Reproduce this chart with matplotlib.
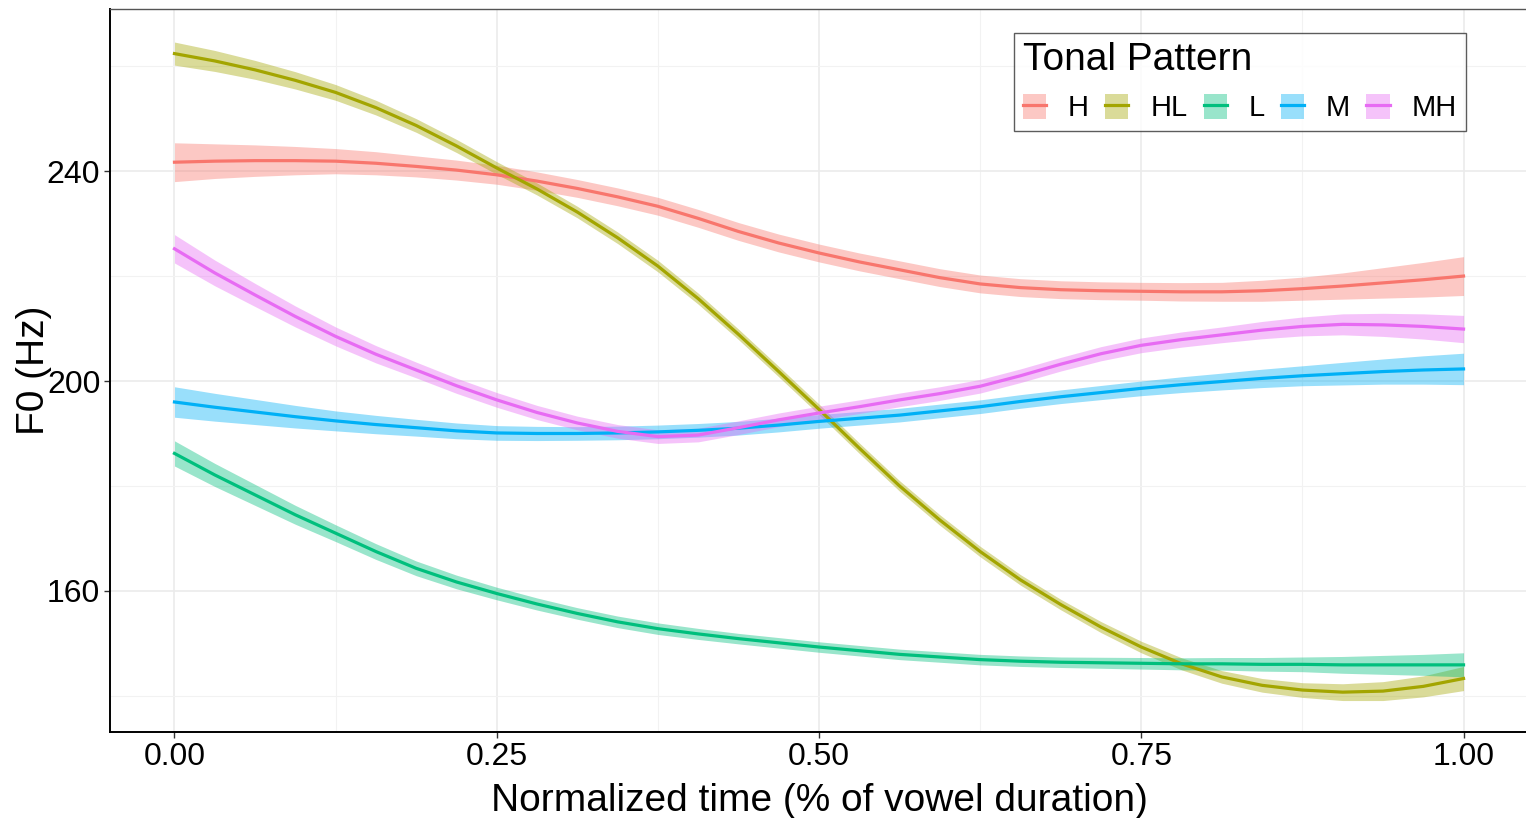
import numpy as np
import matplotlib.pyplot as plt
from matplotlib.patches import Patch
from matplotlib.lines import Line2D

plt.rcParams['font.family'] = ['Liberation Sans', 'DejaVu Sans']

# normalized time points (fraction of vowel duration), step 1/32
t = [0.0, 0.03125, 0.0625, 0.09375, 0.125, 0.15625, 0.1875, 0.21875,
     0.25, 0.28125, 0.3125, 0.34375, 0.375, 0.40625, 0.4375, 0.46875,
     0.5, 0.53125, 0.5625, 0.59375, 0.625, 0.65625, 0.6875, 0.71875,
     0.75, 0.78125, 0.8125, 0.84375, 0.875, 0.90625, 0.9375, 0.96875, 1.0]

patterns = ['H', 'HL', 'L', 'M', 'MH']
colors = ['#F8766D', '#A3A500', '#00BF7D', '#00B0F6', '#E76BF3']

# smoothed F0 (Hz)
f0_H = [241.7, 241.9, 242.0, 242.0, 241.9, 241.5, 240.9, 240.2,
        239.3, 238.1, 236.7, 235.1, 233.3, 231.0, 228.5, 226.3,
        224.4, 222.7, 221.2, 219.7, 218.5, 217.8, 217.4, 217.2,
        217.1, 217.0, 217.0, 217.2, 217.6, 218.1, 218.7, 219.3, 220.0]
f0_HL = [262.4, 261.0, 259.3, 257.3, 255.0, 252.1, 248.7, 244.8,
         240.6, 236.6, 232.2, 227.3, 221.9, 215.7, 208.9, 201.8,
         194.6, 187.2, 180.0, 173.5, 167.5, 162.1, 157.4, 153.1,
         149.3, 146.1, 143.6, 142.0, 141.1, 140.7, 140.9, 141.8, 143.3]
f0_L = [186.2, 182.1, 178.3, 174.5, 171.0, 167.5, 164.3, 161.7,
        159.5, 157.5, 155.7, 154.1, 152.8, 151.8, 150.9, 150.1,
        149.3, 148.6, 147.9, 147.4, 146.9, 146.6, 146.4, 146.3,
        146.2, 146.1, 146.1, 146.0, 146.0, 145.9, 145.9, 145.9, 145.9]
f0_M = [196.0, 195.0, 194.1, 193.2, 192.4, 191.7, 191.1, 190.5,
        190.1, 190.0, 190.0, 190.1, 190.3, 190.6, 191.0, 191.6,
        192.3, 192.9, 193.5, 194.3, 195.1, 196.1, 197.0, 197.8,
        198.6, 199.3, 199.9, 200.5, 201.0, 201.4, 201.8, 202.1, 202.3]
f0_MH = [225.2, 220.6, 216.4, 212.3, 208.5, 205.1, 202.1, 199.1,
         196.4, 194.0, 192.0, 190.4, 189.4, 189.7, 191.1, 192.6,
         193.9, 195.1, 196.4, 197.6, 199.0, 201.0, 203.2, 205.2,
         206.8, 207.9, 208.8, 209.7, 210.4, 210.8, 210.7, 210.4, 209.9]

# half-width of the confidence ribbon (Hz)
se_H = [3.7, 3.3, 3.0, 2.7, 2.4, 2.2, 2.0, 1.9, 1.8, 1.75, 1.7, 1.7,
        1.7, 1.7, 1.7, 1.7, 1.7, 1.7, 1.7, 1.7, 1.7, 1.7, 1.7, 1.7,
        1.7, 1.75, 1.8, 2.0, 2.2, 2.5, 2.9, 3.3, 3.7]
se_HL = [2.2, 2.0, 1.8, 1.65, 1.5, 1.4, 1.3, 1.25, 1.2, 1.15, 1.1, 1.1,
         1.1, 1.05, 1.0, 1.0, 1.0, 1.0, 1.0, 1.0, 1.0, 1.0, 1.0, 1.05,
         1.1, 1.15, 1.2, 1.3, 1.4, 1.6, 1.8, 2.0, 2.3]
se_L = [2.4, 2.2, 2.0, 1.8, 1.6, 1.5, 1.4, 1.3, 1.2, 1.15, 1.1, 1.1,
        1.1, 1.05, 1.0, 1.0, 1.0, 1.0, 1.0, 1.0, 1.0, 1.0, 1.0, 1.05,
        1.1, 1.15, 1.2, 1.3, 1.4, 1.6, 1.8, 2.0, 2.3]
se_M = [2.9, 2.65, 2.4, 2.15, 1.9, 1.75, 1.6, 1.5, 1.4, 1.35, 1.3, 1.3,
        1.3, 1.3, 1.3, 1.3, 1.3, 1.3, 1.3, 1.3, 1.3, 1.3, 1.3, 1.35,
        1.4, 1.5, 1.6, 1.75, 1.9, 2.15, 2.4, 2.7, 3.0]
se_MH = [2.7, 2.45, 2.2, 2.0, 1.8, 1.65, 1.5, 1.45, 1.4, 1.35, 1.3, 1.3,
         1.3, 1.3, 1.3, 1.3, 1.3, 1.3, 1.3, 1.3, 1.3, 1.3, 1.3, 1.35,
         1.4, 1.45, 1.5, 1.65, 1.8, 2.0, 2.2, 2.4, 2.6]

f0_all = [f0_H, f0_HL, f0_L, f0_M, f0_MH]
se_all = [se_H, se_HL, se_L, se_M, se_MH]

fig = plt.figure(figsize=(15.26, 8.18), dpi=100)
ax = fig.add_axes([0.0721, 0.1051, 0.9292, 0.8839])

x = np.array(t)
handles = []
for name, c, f0, se in zip(patterns, colors, f0_all, se_all):
    f0 = np.array(f0)
    se = np.array(se)
    ax.fill_between(x, f0 - se, f0 + se, color=c, alpha=0.4, lw=0)
    ax.plot(x, f0, color=c, lw=2.3, solid_joinstyle='round')
    handles.append((Patch(facecolor=c, alpha=0.4, lw=0),
                    Line2D([], [], color=c, lw=2.3)))

ax.set_xlim(-0.05, 1.05)
ax.set_ylim(133.1, 270.9)
ax.set_xticks([0, 0.25, 0.5, 0.75, 1.0])
ax.set_xticklabels(['0.00', '0.25', '0.50', '0.75', '1.00'])
ax.set_xticks([0.125, 0.375, 0.625, 0.875], minor=True)
ax.set_yticks([160, 200, 240])
ax.set_yticks([140, 180, 220, 260], minor=True)

ax.grid(True, which='major', color='#EBEBEB', lw=1.2)
ax.grid(True, which='minor', color='#F2F2F2', lw=0.8)
ax.set_axisbelow(True)

ax.tick_params(which='major', labelsize=23, length=4, width=1, color='#333333', pad=3)
ax.tick_params(which='minor', length=0)

for s in ['left', 'bottom']:
    ax.spines[s].set_color('black')
    ax.spines[s].set_linewidth(1.4)
for s in ['top', 'right']:
    ax.spines[s].set_color('#555555')
    ax.spines[s].set_linewidth(1.0)

ax.set_xlabel('Normalized time (% of vowel duration)', fontsize=28)
ax.xaxis.set_label_coords(0.5, -0.071)
ax.set_ylabel('F0 (Hz)', fontsize=28)
ax.yaxis.set_label_coords(-0.041, 0.5)

leg = ax.legend(handles, patterns, title='Tonal Pattern', ncol=5,
                loc='upper right', bbox_to_anchor=(0.956, 0.967),
                borderaxespad=0,
                fontsize=21, title_fontsize=28, alignment='left',
                frameon=True, fancybox=False, edgecolor='#333333',
                handlelength=0.8, handleheight=0.95, handletextpad=0.75,
                columnspacing=0.55, borderpad=0.3, labelspacing=0.55)
leg.get_frame().set_linewidth(1.0)

fig.savefig('out.png', dpi=100)
